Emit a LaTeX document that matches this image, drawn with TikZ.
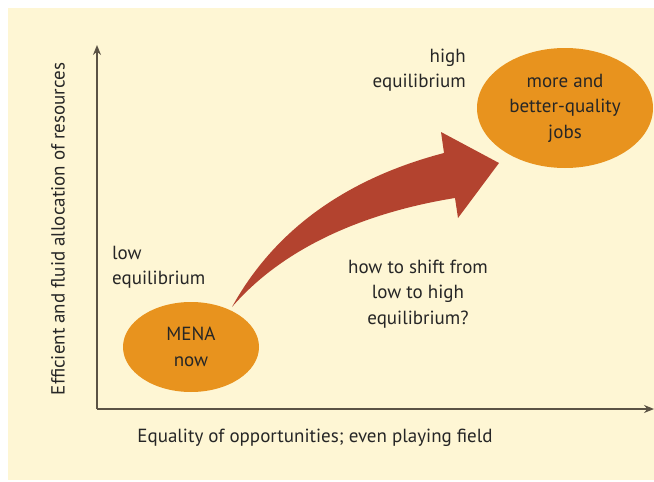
\documentclass[tikz,border=0pt]{standalone}
\usepackage{fontspec}
\setmainfont{PT Sans}
\usepackage{xcolor}
\usetikzlibrary{arrows.meta,shapes.geometric}
\definecolor{tcream}{HTML}{FEF6D4}
\definecolor{torange}{HTML}{E8931E}
\definecolor{tred}{HTML}{B3432F}
\definecolor{ttext}{HTML}{262626}
\definecolor{taxis}{HTML}{5B5345}

\begin{document}
\begin{tikzpicture}[x=1pt, y=-1pt,
    font=\fontsize{19}{25.5}\selectfont, text=ttext,
    blob/.style={ellipse, fill=torange, align=center, inner sep=0pt},
    lbl/.style={align=center, inner sep=0pt},
    axis/.style={draw=taxis, line width=1.4pt, -{Stealth[length=10pt,width=8pt,fill=ttext]}}]

    % background
    \useasboundingbox (0,0) rectangle (654,482);
    \fill[tcream] (8,8) rectangle (654,480);

    % --- axes ------------------------------------------------------------
    \coordinate (O)    at (97,409);
    \coordinate (ytip) at (97,45);
    \coordinate (xtip) at (654,409);
    \draw[axis] (O) -- (ytip);
    \draw[axis] (O) -- (xtip);
    \node[lbl, rotate=90] (ylab) at (58,229) {Efficient and fluid allocation of resources};
    \node[lbl] (xlab) at (315,438) {Equality of opportunities; even playing field};

    % --- equilibria ------------------------------------------------------
    \node[blob, minimum width=136pt, minimum height=90pt] (mena) at (191,347) {MENA\\now};
    \node[blob, minimum width=176pt, minimum height=120pt] (jobs) at (565,108)
      {more and\\better-quality\\jobs};
    \node[lbl, align=left, anchor=west]  (low)  at (112,267) {low\\equilibrium};
    \node[lbl, align=right, anchor=east] (high) at (466,70)  {high\\equilibrium};
    \node[lbl] (shift) at (418,294) {how to shift from\\low to high\\equilibrium?};

    % --- the shift arrow --------------------------------------------------
    \coordinate (tail) at (232,307);
    \fill[tred] (tail) .. controls (280,220) and (360,175) .. (444,153)
      -- (441,132) -- (499,163) -- (458,218) -- (455,198)
      .. controls (380,210) and (290,240) .. (tail) -- cycle;
\end{tikzpicture}
\end{document}
